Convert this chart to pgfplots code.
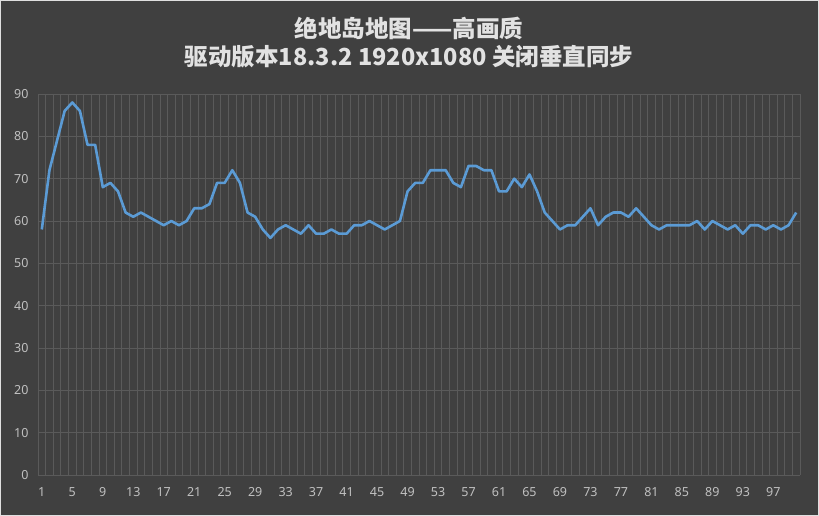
\documentclass[border=0pt]{standalone}
\usepackage{fontspec}
\setmainfont{Noto Sans}
\newfontfamily\cjk{Noto Sans CJK SC}
\usepackage{pgfplots}
\pgfplotsset{compat=1.18}
\definecolor{bg}{HTML}{404040}
\definecolor{gridc}{HTML}{5A5A5A}
\definecolor{tickc}{HTML}{C0C0C0}
\definecolor{titlec}{HTML}{E2E2E2}
\definecolor{linec}{HTML}{5B9BD5}
\begin{document}
\begin{tikzpicture}[x=1pt,y=1pt]
\fill[bg] (0,0) rectangle (819,516);
\draw[color=white!88!black,line width=1.2pt] (0.6,0.6) rectangle (818.4,515.4);
\useasboundingbox (0,0) rectangle (819,516);
\node[text=titlec,font=\cjk\bfseries\fontsize{23.5}{26}\selectfont] at (409,488) {绝地岛地图——高画质};
\node[text=titlec,font=\cjk\bfseries\fontsize{23.5}{26}\selectfont] at (409,459) {驱动版本18.3.2 1920x1080 关闭垂直同步};
\begin{axis}[
  at={(38pt,41pt)}, anchor=south west,
  scale only axis, width=762pt, height=381pt,
  xmin=0.5, xmax=100.5, ymin=0, ymax=90,
  xtick={1,5,...,97},
  minor xtick={0.5,1.5,...,100.5},
  ytick={0,10,...,90},
  xminorgrids=true, ymajorgrids=true, xmajorgrids=false,
  minor grid style={color=gridc, line width=0.8pt},
  major grid style={color=gridc, line width=0.8pt},
  axis line style={draw=none},
  major tick length=0pt, minor tick length=0pt,
  tick style={draw=none},
  /pgf/number format/assume math mode=true,
  ticklabel style={font=\fontsize{12.5}{14}\selectfont, text=tickc},
  yticklabel style={anchor=east, xshift=-6pt},
  xticklabel style={anchor=north, yshift=-9pt},
  clip=false,
]
\addplot[color=linec, line width=2.6pt, line join=round, mark=none] coordinates {
(1,58)(2,72)(3,79)(4,86)(5,88)(6,86)(7,78)(8,78)(9,68)(10,69)
(11,67)(12,62)(13,61)(14,62)(15,61)(16,60)(17,59)(18,60)(19,59)(20,60)
(21,63)(22,63)(23,64)(24,69)(25,69)(26,72)(27,69)(28,62)(29,61)(30,58)
(31,56)(32,58)(33,59)(34,58)(35,57)(36,59)(37,57)(38,57)(39,58)(40,57)
(41,57)(42,59)(43,59)(44,60)(45,59)(46,58)(47,59)(48,60)(49,67)(50,69)
(51,69)(52,72)(53,72)(54,72)(55,69)(56,68)(57,73)(58,73)(59,72)(60,72)
(61,67)(62,67)(63,70)(64,68)(65,71)(66,67)(67,62)(68,60)(69,58)(70,59)
(71,59)(72,61)(73,63)(74,59)(75,61)(76,62)(77,62)(78,61)(79,63)(80,61)
(81,59)(82,58)(83,59)(84,59)(85,59)(86,59)(87,60)(88,58)(89,60)(90,59)
(91,58)(92,59)(93,57)(94,59)(95,59)(96,58)(97,59)(98,58)(99,59)(100,62)
};
\end{axis}
\end{tikzpicture}
\end{document}
